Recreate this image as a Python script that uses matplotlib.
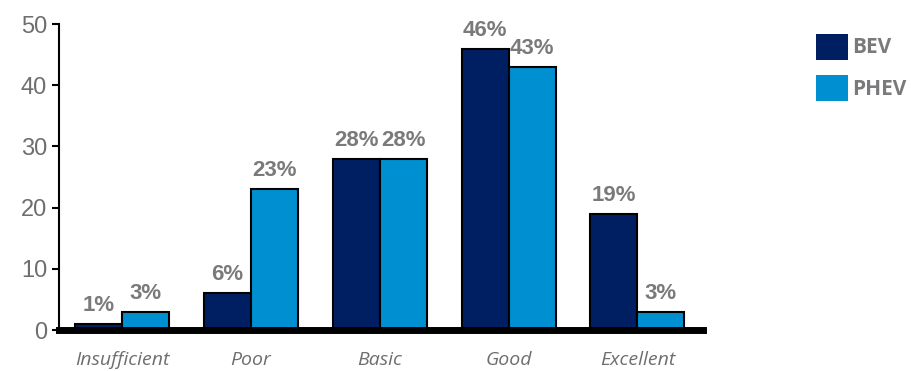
import matplotlib.pyplot as plt
import numpy as np

categories = ['Insufficient', 'Poor', 'Basic', 'Good', 'Excellent']
bev = [1, 6, 28, 46, 19]
phev = [3, 23, 28, 43, 3]

dark = '#001f63'
light = '#0090d1'
grey = '#7a7a7c'

fig = plt.figure(figsize=(9.12, 3.71), dpi=100)
ax = fig.add_axes([0.0647, 0.1105, 0.7063, 0.8245])

x = np.arange(len(categories))
w = 0.365
b1 = ax.bar(x - w / 2, bev, w, color=dark, edgecolor='black', linewidth=1.5, label='BEV', zorder=2)
b2 = ax.bar(x + w / 2, phev, w, color=light, edgecolor='black', linewidth=1.5, label='PHEV', zorder=2)

for bars, vals in ((b1, bev), (b2, phev)):
    for r, v in zip(bars, vals):
        ax.text(r.get_x() + r.get_width() / 2, v + 1.3, f'{v}%', ha='center', va='bottom',
                fontsize=16, fontweight='bold', color=grey, family='Liberation Sans', clip_on=False)

ax.set_xlim(-0.49, 4.51)
ax.set_ylim(0, 50)
ax.set_yticks([0, 10, 20, 30, 40, 50])
ax.tick_params(axis='y', labelsize=17, labelcolor='#6e6e70', length=5, width=1.5, direction='out',
               labelfontfamily='Liberation Sans')
ax.set_xticks(x)
ax.set_xticklabels(categories, fontsize=14, style='italic', color='#6e6e70', family='Open Sans')
ax.tick_params(axis='x', length=0, pad=15)

for s in ['top', 'right']:
    ax.spines[s].set_visible(False)
ax.spines['left'].set_linewidth(1.5)
ax.spines['bottom'].set_linewidth(5)
ax.spines['bottom'].set_zorder(3)

leg = fig.legend(handles=[b1, b2], labels=['BEV', 'PHEV'], loc='upper left', bbox_to_anchor=(0.874, 0.96),
                 frameon=False, handlelength=1.55, handleheight=1.55, handletextpad=0.2, labelspacing=0.75,
                 prop={'family': 'Open Sans', 'weight': 'bold', 'size': 15})
for t in leg.get_texts():
    t.set_color(grey)
for h in leg.legend_handles:
    h.set_edgecolor('none')

fig.savefig('out.png', dpi=100)
